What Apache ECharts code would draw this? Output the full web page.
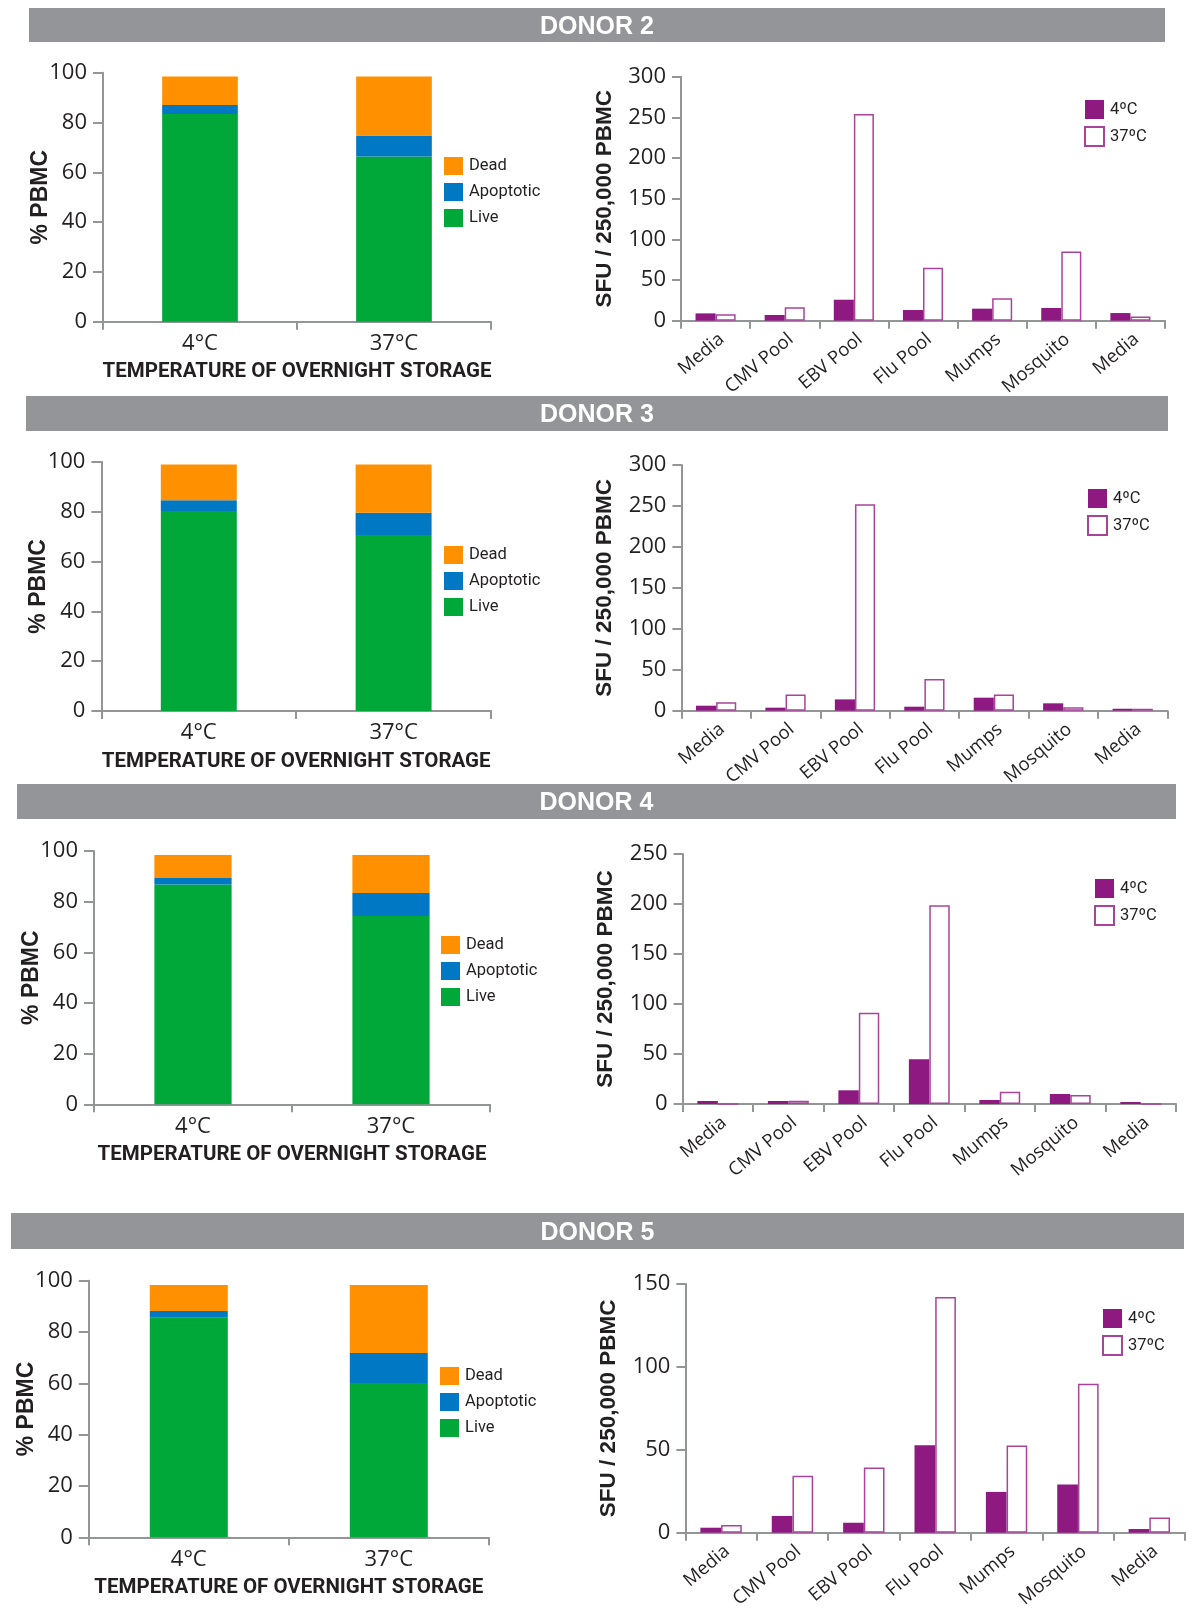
<!DOCTYPE html>
<html>
<head>
<meta charset="utf-8">
<script src="https://cdn.jsdelivr.net/npm/echarts@6/dist/echarts.min.js"></script>
<style>
html,body{margin:0;padding:0;background:#fff;}
#c{width:1192px;height:1611px;}
</style>
</head>
<body>
<div id="c"></div>
<script>
// ---------- DATA ----------
const tempCategories = ['4°C', '37°C'];
const antigenCategories = ['Media', 'CMV Pool', 'EBV Pool', 'Flu Pool', 'Mumps', 'Mosquito', 'Media'];
const donorTitles = ['DONOR 2', 'DONOR 3', 'DONOR 4', 'DONOR 5'];
const viabilityNames = ['Live', 'Apoptotic', 'Dead'];
const tempSeriesNames = ['4ºC', '37ºC'];

// % PBMC (4°C, 37°C)
const d2Live = [83.4, 66.3];
const d2Apoptotic = [3.6, 8.5];
const d2Dead = [11.5, 23.7];
const d3Live = [80.2, 70.6];
const d3Apoptotic = [4.3, 8.9];
const d3Dead = [14.4, 19.4];
const d4Live = [86.8, 74.3];
const d4Apoptotic = [2.5, 9.1];
const d4Dead = [9.1, 15.0];
const d5Live = [85.6, 60.1];
const d5Apoptotic = [2.6, 11.7];
const d5Dead = [10.1, 26.5];

// SFU / 250,000 PBMC
const d2Sfu4 = [9.0, 7.0, 25.8, 13.1, 14.8, 15.6, 9.4];
const d2Sfu37 = [7.8, 16.4, 254, 65.2, 27.5, 85.2, 5.3];
const d3Sfu4 = [6.1, 3.7, 13.8, 4.9, 15.9, 9.0, 2.4];
const d3Sfu37 = [10.2, 19.9, 252, 38.7, 19.9, 4.1, 2.4];
const d4Sfu4 = [3.0, 3.0, 13.7, 44.7, 4.0, 10.0, 2.0];
const d4Sfu37 = [0, 3.3, 91.3, 198.7, 12.3, 9.0, 0];
const d5Sfu4 = [3.0, 10.1, 6.0, 52.8, 24.6, 29.0, 2.2];
const d5Sfu37 = [4.6, 34.3, 39.3, 142.1, 52.6, 89.9, 9.1];

const sfuMax = [300, 300, 250, 150];
const pctMax = 100;

// ---------- STYLE / LAYOUT ----------
const GREEN = '#00A83A', BLUE = '#0078C4', ORANGE = '#FF9000';
const PURPLE = '#8E1980', PURPLE_LINE = '#A8449C';
const AXIS = '#939598', TXT = '#231F20';
const F_REG = "'Open Sans', 'Noto Sans', sans-serif";
const F_NAR = "Roboto, 'Open Sans', sans-serif";
const F_BOLD = "'Liberation Sans', Arial, sans-serif";

const leftGrids = [
  {left: 103, top: 72.7, width: 388, height: 249},
  {left: 101.4, top: 461.7, width: 389.6, height: 249.3},
  {left: 94, top: 851, width: 396, height: 253.3},
  {left: 88.8, top: 1280.7, width: 400, height: 256.6}
];
const rightGrids = [
  {left: 681, top: 76.7, width: 484, height: 244},
  {left: 681.4, top: 465, width: 486, height: 245.7},
  {left: 682.6, top: 854, width: 493.4, height: 250},
  {left: 685.4, top: 1284, width: 499.6, height: 252}
];
const leftLegendPos = [[444, 157], [444, 546], [441, 936], [440, 1367]];
const rightLegendPos = [[1084, 100], [1087, 489], [1094, 879], [1102, 1309]];
const bars = [[29, 8, 1136, 34], [26, 396, 1142, 35], [17, 784, 1159, 35], [11, 1213, 1173, 36]];

const viability = [
  [d2Live, d2Apoptotic, d2Dead],
  [d3Live, d3Apoptotic, d3Dead],
  [d4Live, d4Apoptotic, d4Dead],
  [d5Live, d5Apoptotic, d5Dead]
];
const sfu = [
  [d2Sfu4, d2Sfu37],
  [d3Sfu4, d3Sfu37],
  [d4Sfu4, d4Sfu37],
  [d5Sfu4, d5Sfu37]
];

const grid = [], xAxis = [], yAxis = [], series = [], legend = [], graphic = [];
const axisLine = {show: true, lineStyle: {color: AXIS, width: 2}};

for (let d = 0; d < 4; d++) {
  // title bar
  const b = bars[d];
  graphic.push({type: 'rect', left: b[0], top: b[1], shape: {width: b[2], height: b[3]}, style: {fill: '#939598'}, z: 0});
  graphic.push({type: 'text', x: b[0] + b[2] / 2, y: b[1] + b[3] / 2 + 2,
    style: {text: donorTitles[d], fill: '#fff', font: "bold 25px 'Liberation Sans', Arial, sans-serif", align: 'center', verticalAlign: 'middle'}, z: 1});

  // left chart
  const gi = grid.length;
  grid.push(Object.assign({containLabel: false}, leftGrids[d]));
  xAxis.push({
    type: 'category', gridIndex: gi, data: tempCategories,
    axisLine, axisTick: {show: true, length: 8, lineStyle: {color: AXIS, width: 2}},
    axisLabel: {color: TXT, fontFamily: F_REG, fontSize: 22, margin: 11},
    name: 'TEMPERATURE OF OVERNIGHT STORAGE', nameLocation: 'middle', nameGap: 40,
    nameMoveOverlap: false,
    nameTextStyle: {color: TXT, fontFamily: F_NAR, fontWeight: 'bold', fontSize: 20.5}
  });
  yAxis.push({
    type: 'value', gridIndex: gi, min: 0, max: pctMax, interval: 20,
    axisLine, axisTick: {show: true, length: 10, lineStyle: {color: AXIS, width: 2}},
    splitLine: {show: false},
    axisLabel: {color: TXT, fontFamily: F_REG, fontSize: 22, margin: 16},
    name: '% PBMC', nameLocation: 'middle', nameGap: 51, nameRotate: 90,
    nameMoveOverlap: false,
    nameTextStyle: {color: TXT, fontFamily: F_BOLD, fontWeight: 'bold', fontSize: 23}
  });
  const colors = [GREEN, BLUE, ORANGE];
  for (let s = 0; s < 3; s++) {
    series.push({
      type: 'bar', name: viabilityNames[s], stack: 'v' + d, xAxisIndex: gi, yAxisIndex: gi,
      data: viability[d][s], barWidth: '39%', itemStyle: {color: colors[s]}, silent: true
    });
  }
  legend.push({
    left: leftLegendPos[d][0], top: leftLegendPos[d][1], orient: 'vertical', padding: 0,
    itemWidth: 19, itemHeight: 18, itemGap: 8, icon: 'rect', selectedMode: false,
    data: ['Dead', 'Apoptotic', 'Live'],
    textStyle: {color: TXT, fontFamily: F_NAR, fontSize: 16.5, padding: [0, 0, 0, 1]}
  });

  // right chart
  const gj = grid.length;
  grid.push(Object.assign({containLabel: false}, rightGrids[d]));
  xAxis.push({
    type: 'category', gridIndex: gj, data: antigenCategories,
    axisLine, axisTick: {show: true, length: 8, lineStyle: {color: AXIS, width: 2}},
    axisLabel: {color: TXT, fontFamily: F_REG, fontSize: 18.5, rotate: 40, interval: 0, margin: 9, verticalAlign: 'top'}
  });
  yAxis.push({
    type: 'value', gridIndex: gj, min: 0, max: sfuMax[d], interval: 50,
    axisLine, axisTick: {show: true, length: 9, lineStyle: {color: AXIS, width: 2}},
    splitLine: {show: false},
    axisLabel: {color: TXT, fontFamily: F_REG, fontSize: 22, margin: 15},
    name: 'SFU / 250,000 PBMC', nameLocation: 'middle', nameGap: 65, nameRotate: 90,
    nameMoveOverlap: false,
    nameTextStyle: {color: TXT, fontFamily: F_BOLD, fontWeight: 'bold', fontSize: 22.5}
  });
  series.push({
    type: 'bar', name: tempSeriesNames[0], xAxisIndex: gj, yAxisIndex: gj, data: sfu[d][0],
    barWidth: '29%', barGap: '0%', itemStyle: {color: PURPLE}, silent: true
  });
  series.push({
    type: 'bar', name: tempSeriesNames[1], xAxisIndex: gj, yAxisIndex: gj, data: sfu[d][1],
    barWidth: '29%', barGap: '0%', itemStyle: {color: '#ffffff', borderColor: PURPLE_LINE, borderWidth: 1.5}, silent: true
  });
  legend.push({
    left: rightLegendPos[d][0], top: rightLegendPos[d][1], orient: 'vertical', padding: 0,
    itemWidth: 19, itemHeight: 19, itemGap: 7, icon: 'rect', selectedMode: false,
    data: tempSeriesNames,
    textStyle: {color: TXT, fontFamily: F_NAR, fontSize: 16.5, padding: [0, 0, 0, 1]}
  });
}

const chart = echarts.init(document.getElementById('c'), null, {renderer: 'canvas'});
chart.setOption({
  animation: false,
  backgroundColor: '#ffffff',
  grid, xAxis, yAxis, series, legend, graphic,
  tooltip: {show: false}
});
</script>
</body>
</html>
